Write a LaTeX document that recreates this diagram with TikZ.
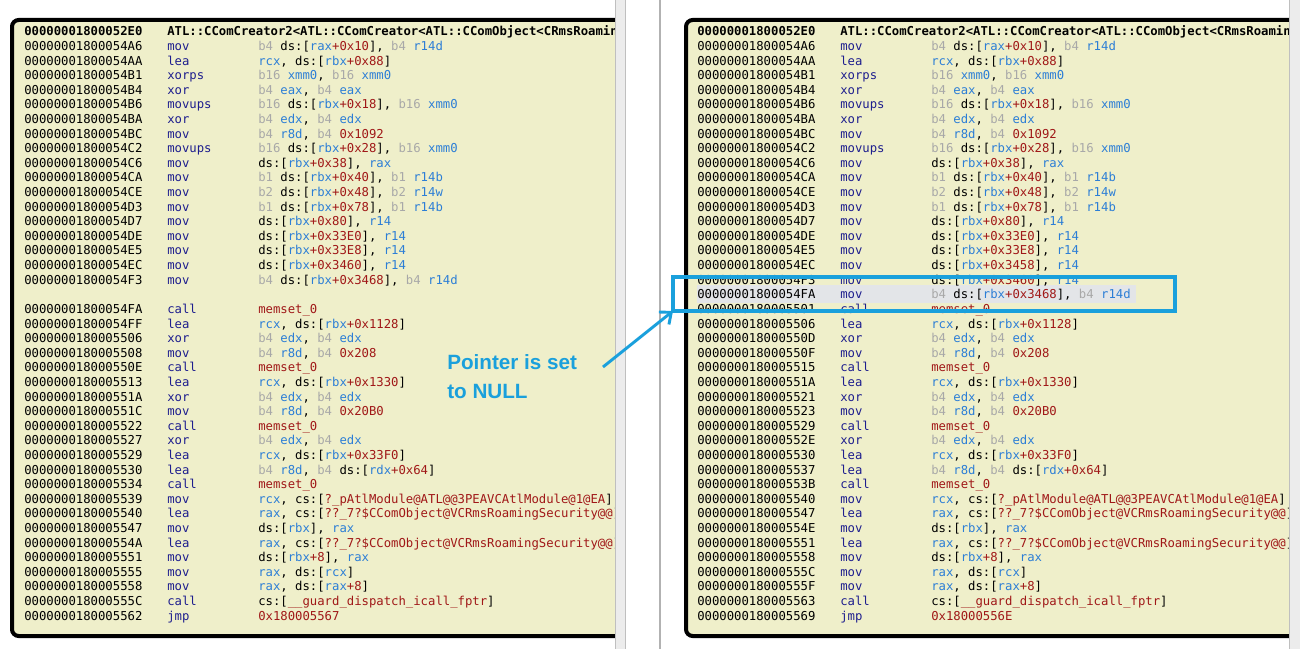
\documentclass[tikz,border=0pt]{standalone}
\usepackage{fontspec}
\setmonofont{DejaVu Sans Mono}
\setsansfont{Liberation Sans}
\usetikzlibrary{arrows.meta}
\definecolor{bgc}{HTML}{EFEFCA}
\definecolor{mnc}{HTML}{1E1E8E}
\definecolor{rgc}{HTML}{2C7ED6}
\definecolor{nmc}{HTML}{A01818}
\definecolor{gyc}{HTML}{A8A8A8}
\definecolor{hlc}{HTML}{E3E5E8}
\definecolor{arc}{HTML}{1AA0DC}
\newcommand\G[1]{\textcolor{gyc}{#1}}
\newcommand\B[1]{\textcolor{rgc}{#1}}
\newcommand\N[1]{\textcolor{nmc}{#1}}
\def\cA{24}\def\cM{167}\def\cO{258}
\newcommand\Rw[4]{%
  \node[tx] at ({\cA},{36+14.6*#1}) {#2};
  \node[tx,text=mnc] at ({\cM},{36+14.6*#1}) {#3};
  \node[tx] at ({\cO},{36+14.6*#1}) {#4};}
\begin{document}
\begin{tikzpicture}[x=0.75pt,y=-0.75pt,
  tx/.style={anchor=base west,inner sep=0pt,font=\ttfamily\fontsize{9.2pt}{10pt}\selectfont},
  frame/.style={draw=black,line width=3pt,rounded corners=5pt,fill=bgc},
  strip/.style={fill=gray!15,draw=gray!50,line width=0.4pt}]
\useasboundingbox (0,0) rectangle (1300,649);
\fill[white] (0,0) rectangle (1300,649);
% left panel
\begin{scope}
\clip (0,0) rectangle (615,649);
\draw[frame] (12,20) rectangle (700,636);
\node[tx,font=\ttfamily\bfseries\fontsize{9.2pt}{10pt}\selectfont] at (\cA,36) {00000001800052E0};
\node[tx,font=\ttfamily\bfseries\fontsize{9.2pt}{10pt}\selectfont] at (\cM,36) {ATL::CComCreator2<ATL::CComCreator<ATL::CComObject<CRmsRoamingSecurity>>>};
\Rw{1}{00000001800054A6}{mov}{\G{b4} ds:[\B{rax}\N{+0x10}], \G{b4} \B{r14d}}
\Rw{2}{00000001800054AA}{lea}{\B{rcx}, ds:[\B{rbx}\N{+0x88}]}
\Rw{3}{00000001800054B1}{xorps}{\G{b16} \B{xmm0}, \G{b16} \B{xmm0}}
\Rw{4}{00000001800054B4}{xor}{\G{b4} \B{eax}, \G{b4} \B{eax}}
\Rw{5}{00000001800054B6}{movups}{\G{b16} ds:[\B{rbx}\N{+0x18}], \G{b16} \B{xmm0}}
\Rw{6}{00000001800054BA}{xor}{\G{b4} \B{edx}, \G{b4} \B{edx}}
\Rw{7}{00000001800054BC}{mov}{\G{b4} \B{r8d}, \G{b4} \N{0x1092}}
\Rw{8}{00000001800054C2}{movups}{\G{b16} ds:[\B{rbx}\N{+0x28}], \G{b16} \B{xmm0}}
\Rw{9}{00000001800054C6}{mov}{ds:[\B{rbx}\N{+0x38}], \B{rax}}
\Rw{10}{00000001800054CA}{mov}{\G{b1} ds:[\B{rbx}\N{+0x40}], \G{b1} \B{r14b}}
\Rw{11}{00000001800054CE}{mov}{\G{b2} ds:[\B{rbx}\N{+0x48}], \G{b2} \B{r14w}}
\Rw{12}{00000001800054D3}{mov}{\G{b1} ds:[\B{rbx}\N{+0x78}], \G{b1} \B{r14b}}
\Rw{13}{00000001800054D7}{mov}{ds:[\B{rbx}\N{+0x80}], \B{r14}}
\Rw{14}{00000001800054DE}{mov}{ds:[\B{rbx}\N{+0x33E0}], \B{r14}}
\Rw{15}{00000001800054E5}{mov}{ds:[\B{rbx}\N{+0x33E8}], \B{r14}}
\Rw{16}{00000001800054EC}{mov}{ds:[\B{rbx}\N{+0x3460}], \B{r14}}
\Rw{17}{00000001800054F3}{mov}{\G{b4} ds:[\B{rbx}\N{+0x3468}], \G{b4} \B{r14d}}
\Rw{19}{00000001800054FA}{call}{\N{memset\_0}}
\Rw{20}{00000001800054FF}{lea}{\B{rcx}, ds:[\B{rbx}\N{+0x1128}]}
\Rw{21}{0000000180005506}{xor}{\G{b4} \B{edx}, \G{b4} \B{edx}}
\Rw{22}{0000000180005508}{mov}{\G{b4} \B{r8d}, \G{b4} \N{0x208}}
\Rw{23}{000000018000550E}{call}{\N{memset\_0}}
\Rw{24}{0000000180005513}{lea}{\B{rcx}, ds:[\B{rbx}\N{+0x1330}]}
\Rw{25}{000000018000551A}{xor}{\G{b4} \B{edx}, \G{b4} \B{edx}}
\Rw{26}{000000018000551C}{mov}{\G{b4} \B{r8d}, \G{b4} \N{0x20B0}}
\Rw{27}{0000000180005522}{call}{\N{memset\_0}}
\Rw{28}{0000000180005527}{xor}{\G{b4} \B{edx}, \G{b4} \B{edx}}
\Rw{29}{0000000180005529}{lea}{\B{rcx}, ds:[\B{rbx}\N{+0x33F0}]}
\Rw{30}{0000000180005530}{lea}{\G{b4} \B{r8d}, \G{b4} ds:[\B{rdx}\N{+0x64}]}
\Rw{31}{0000000180005534}{call}{\N{memset\_0}}
\Rw{32}{0000000180005539}{mov}{\B{rcx}, cs:[\N{?\_pAtlModule@ATL@@3PEAVCAtlModule@1@EA}]}
\Rw{33}{0000000180005540}{lea}{\B{rax}, cs:[\N{??\_7?\$CComObject@VCRmsRoamingSecurity@@}]}
\Rw{34}{0000000180005547}{mov}{ds:[\B{rbx}], \B{rax}}
\Rw{35}{000000018000554A}{lea}{\B{rax}, cs:[\N{??\_7?\$CComObject@VCRmsRoamingSecurity@@}]}
\Rw{36}{0000000180005551}{mov}{ds:[\B{rbx}\N{+8}], \B{rax}}
\Rw{37}{0000000180005555}{mov}{\B{rax}, ds:[\B{rcx}]}
\Rw{38}{0000000180005558}{mov}{\B{rax}, ds:[\B{rax}\N{+8}]}
\Rw{39}{000000018000555C}{call}{cs:[\N{\_\_guard\_dispatch\_icall\_fptr}]}
\Rw{40}{0000000180005562}{jmp}{\N{0x180005567}}
\end{scope}
\fill[strip] (615,-2) rectangle (625,651);
\draw[gray!60,line width=1pt] (660,0) -- (660,649);
% right panel
\begin{scope}
\clip (680,0) rectangle (1289,649);
\draw[frame] (686,20) rectangle (1400,636);
\fill[hlc] (697,285) rectangle (1136,303);
\def\cA{697}\def\cM{840}\def\cO{931}
\node[tx,font=\ttfamily\bfseries\fontsize{9.2pt}{10pt}\selectfont] at (\cA,36) {00000001800052E0};
\node[tx,font=\ttfamily\bfseries\fontsize{9.2pt}{10pt}\selectfont] at (\cM,36) {ATL::CComCreator2<ATL::CComCreator<ATL::CComObject<CRmsRoamingSecurity>>>};
\Rw{1}{00000001800054A6}{mov}{\G{b4} ds:[\B{rax}\N{+0x10}], \G{b4} \B{r14d}}
\Rw{2}{00000001800054AA}{lea}{\B{rcx}, ds:[\B{rbx}\N{+0x88}]}
\Rw{3}{00000001800054B1}{xorps}{\G{b16} \B{xmm0}, \G{b16} \B{xmm0}}
\Rw{4}{00000001800054B4}{xor}{\G{b4} \B{eax}, \G{b4} \B{eax}}
\Rw{5}{00000001800054B6}{movups}{\G{b16} ds:[\B{rbx}\N{+0x18}], \G{b16} \B{xmm0}}
\Rw{6}{00000001800054BA}{xor}{\G{b4} \B{edx}, \G{b4} \B{edx}}
\Rw{7}{00000001800054BC}{mov}{\G{b4} \B{r8d}, \G{b4} \N{0x1092}}
\Rw{8}{00000001800054C2}{movups}{\G{b16} ds:[\B{rbx}\N{+0x28}], \G{b16} \B{xmm0}}
\Rw{9}{00000001800054C6}{mov}{ds:[\B{rbx}\N{+0x38}], \B{rax}}
\Rw{10}{00000001800054CA}{mov}{\G{b1} ds:[\B{rbx}\N{+0x40}], \G{b1} \B{r14b}}
\Rw{11}{00000001800054CE}{mov}{\G{b2} ds:[\B{rbx}\N{+0x48}], \G{b2} \B{r14w}}
\Rw{12}{00000001800054D3}{mov}{\G{b1} ds:[\B{rbx}\N{+0x78}], \G{b1} \B{r14b}}
\Rw{13}{00000001800054D7}{mov}{ds:[\B{rbx}\N{+0x80}], \B{r14}}
\Rw{14}{00000001800054DE}{mov}{ds:[\B{rbx}\N{+0x33E0}], \B{r14}}
\Rw{15}{00000001800054E5}{mov}{ds:[\B{rbx}\N{+0x33E8}], \B{r14}}
\Rw{16}{00000001800054EC}{mov}{ds:[\B{rbx}\N{+0x3458}], \B{r14}}
\Rw{17}{00000001800054F3}{mov}{ds:[\B{rbx}\N{+0x3460}], \B{r14}}
\Rw{18}{00000001800054FA}{mov}{\G{b4} ds:[\B{rbx}\N{+0x3468}], \G{b4} \B{r14d}}
\Rw{19}{0000000180005501}{call}{\N{memset\_0}}
\Rw{20}{0000000180005506}{lea}{\B{rcx}, ds:[\B{rbx}\N{+0x1128}]}
\Rw{21}{000000018000550D}{xor}{\G{b4} \B{edx}, \G{b4} \B{edx}}
\Rw{22}{000000018000550F}{mov}{\G{b4} \B{r8d}, \G{b4} \N{0x208}}
\Rw{23}{0000000180005515}{call}{\N{memset\_0}}
\Rw{24}{000000018000551A}{lea}{\B{rcx}, ds:[\B{rbx}\N{+0x1330}]}
\Rw{25}{0000000180005521}{xor}{\G{b4} \B{edx}, \G{b4} \B{edx}}
\Rw{26}{0000000180005523}{mov}{\G{b4} \B{r8d}, \G{b4} \N{0x20B0}}
\Rw{27}{0000000180005529}{call}{\N{memset\_0}}
\Rw{28}{000000018000552E}{xor}{\G{b4} \B{edx}, \G{b4} \B{edx}}
\Rw{29}{0000000180005530}{lea}{\B{rcx}, ds:[\B{rbx}\N{+0x33F0}]}
\Rw{30}{0000000180005537}{lea}{\G{b4} \B{r8d}, \G{b4} ds:[\B{rdx}\N{+0x64}]}
\Rw{31}{000000018000553B}{call}{\N{memset\_0}}
\Rw{32}{0000000180005540}{mov}{\B{rcx}, cs:[\N{?\_pAtlModule@ATL@@3PEAVCAtlModule@1@EA}]}
\Rw{33}{0000000180005547}{lea}{\B{rax}, cs:[\N{??\_7?\$CComObject@VCRmsRoamingSecurity@@}]}
\Rw{34}{000000018000554E}{mov}{ds:[\B{rbx}], \B{rax}}
\Rw{35}{0000000180005551}{lea}{\B{rax}, cs:[\N{??\_7?\$CComObject@VCRmsRoamingSecurity@@}]}
\Rw{36}{0000000180005558}{mov}{ds:[\B{rbx}\N{+8}], \B{rax}}
\Rw{37}{000000018000555C}{mov}{\B{rax}, ds:[\B{rcx}]}
\Rw{38}{000000018000555F}{mov}{\B{rax}, ds:[\B{rax}\N{+8}]}
\Rw{39}{0000000180005563}{call}{cs:[\N{\_\_guard\_dispatch\_icall\_fptr}]}
\Rw{40}{0000000180005569}{jmp}{\N{0x18000556E}}
\end{scope}
\fill[strip] (1289,-2) rectangle (1302,651);
% highlight box and annotation
\coordinate (hlsw) at (673,311);
\draw[arc,line width=3pt] (hlsw) rectangle (1175,277);
\node[anchor=north west,align=left,inner sep=0pt,text=arc,font=\sffamily\bfseries\fontsize{15.5pt}{22pt}\selectfont] (ptr) at (447,354) {Pointer is set\\to NULL};
\coordinate (as) at (603,367);
\draw[arc,line width=2.2pt,-{Straight Barb[length=7pt,width=12pt]}] (as) -- (hlsw);
\end{tikzpicture}
\end{document}
